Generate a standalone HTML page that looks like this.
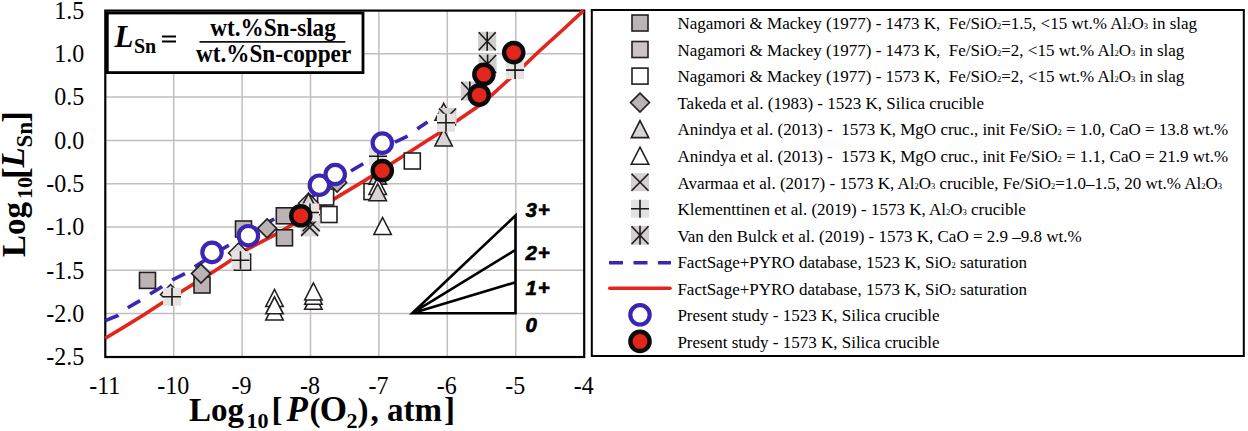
<!DOCTYPE html>
<html><head><meta charset="utf-8"><style>
html,body{margin:0;padding:0;background:#fff;}
svg{display:block;}
text{font-family:"Liberation Serif",serif;}
.s{font-family:"Liberation Sans",sans-serif;}
</style></head><body>
<svg width="1248" height="431" viewBox="0 0 1248 431">
<defs>
<g id="sqA"><rect x="-8" y="-8" width="16" height="16" fill="#bcb4b4" stroke="#231f20" stroke-width="1.6"/></g>
<g id="sqB"><rect x="-8" y="-8" width="16" height="16" fill="#cac4c4" stroke="#231f20" stroke-width="1.6"/></g>
<g id="sqC"><rect x="-8" y="-8" width="16" height="16" fill="#fff" stroke="#231f20" stroke-width="1.6"/></g>
<g id="dia"><path d="M0,-9.5 L9.5,0 L0,9.5 L-9.5,0 Z" fill="#bab3b3" stroke="#231f20" stroke-width="1.6"/></g>
<g id="triF"><path d="M0,-8.5 L8.7,8.5 L-8.7,8.5 Z" fill="#d9d4d4" stroke="#231f20" stroke-width="1.6"/></g>
<g id="diaL"><path d="M0,-10 L10,0 L0,10 L-10,0 Z" fill="#dcd8d8" stroke="#231f20" stroke-width="1.5"/></g>
<g id="triO"><path d="M0,-8.5 L8.7,8.5 L-8.7,8.5 Z" fill="#fff" stroke="#231f20" stroke-width="1.6"/></g>
<g id="xb"><rect x="-9" y="-9" width="18" height="18" fill="#d6d1d1"/><path d="M-8.5,-8.5 L8.5,8.5 M8.5,-8.5 L-8.5,8.5" stroke="#1a1a1a" stroke-width="1.6"/></g>
<g id="xbox"><rect x="-9" y="-9" width="18" height="18" fill="#d9d5d5"/></g>
<g id="xl"><path d="M-8.5,-8.5 L8.5,8.5 M8.5,-8.5 L-8.5,8.5" stroke="#1a1a1a" stroke-width="1.5"/></g>
<g id="pb"><rect x="-9" y="-9" width="18" height="18" fill="#e6e2e2"/><path d="M-9,0 L9,0 M0,-9 L0,9" stroke="#1a1a1a" stroke-width="1.6"/></g>
<g id="sb"><rect x="-9" y="-9.5" width="18" height="19" fill="#d3cdcd"/><path d="M-8.5,-9 L8.5,9 M8.5,-9 L-8.5,9 M0,-9.5 L0,9.5" stroke="#1a1a1a" stroke-width="1.6"/></g>
<g id="cb"><circle r="9.7" fill="#fff" stroke="#3926b2" stroke-width="4.2"/></g>
<g id="cr"><circle r="9.6" fill="#e2261c" stroke="#0a0a0a" stroke-width="4.4"/></g>
</defs>

<line x1="173.7" y1="10.5" x2="173.7" y2="357" stroke="#c3bebe" stroke-width="1.5"/>
<line x1="242.1" y1="10.5" x2="242.1" y2="357" stroke="#c3bebe" stroke-width="1.5"/>
<line x1="310.5" y1="10.5" x2="310.5" y2="357" stroke="#c3bebe" stroke-width="1.5"/>
<line x1="378.9" y1="10.5" x2="378.9" y2="357" stroke="#c3bebe" stroke-width="1.5"/>
<line x1="447.3" y1="10.5" x2="447.3" y2="357" stroke="#c3bebe" stroke-width="1.5"/>
<line x1="515.8" y1="10.5" x2="515.8" y2="357" stroke="#c3bebe" stroke-width="1.5"/>
<line x1="105" y1="53.8" x2="584" y2="53.8" stroke="#c3bebe" stroke-width="1.5"/>
<line x1="105" y1="97.1" x2="584" y2="97.1" stroke="#c3bebe" stroke-width="1.5"/>
<line x1="105" y1="140.4" x2="584" y2="140.4" stroke="#c3bebe" stroke-width="1.5"/>
<line x1="105" y1="183.7" x2="584" y2="183.7" stroke="#c3bebe" stroke-width="1.5"/>
<line x1="105" y1="227.0" x2="584" y2="227.0" stroke="#c3bebe" stroke-width="1.5"/>
<line x1="105" y1="270.3" x2="584" y2="270.3" stroke="#c3bebe" stroke-width="1.5"/>
<line x1="105" y1="313.6" x2="584" y2="313.6" stroke="#c3bebe" stroke-width="1.5"/>
<rect x="105.3" y="10.6" width="478.9" height="346.4" fill="none" stroke="#000" stroke-width="2.2"/>
<polyline points="105.3,320.7 117.9,315.5 127.5,307.9 139.6,300.9 150.4,293.8 158.0,289.2 172.5,279.9 185.0,273.6 194.8,266.7 223.0,248.6 271.7,220.4 296.0,207.3 352.1,170.3 363.9,163.3 395.6,141.8 408.8,135.5 417.9,128.6 427.5,122.0" fill="none" stroke="#3926b2" stroke-width="3.6" stroke-dasharray="14.2 12" stroke-linejoin="round"/>
<polyline points="105.3,338.3 125.5,326.1 144.7,314.3 160.0,304.2 182.3,291.0 193.4,284.1 211.5,272.9 229.5,261.2 245.6,250.1 260.9,242.2 276.2,234.1 291.5,225.1 341.3,194.6 366.3,179.6 392.0,163.3 425.0,142.1 440.1,132.6 484.4,101.9 500.0,87.5 523.0,66.6 541.8,48.8 562.6,30.0 583.5,10.6" fill="none" stroke="#e3261d" stroke-width="3.6" stroke-linejoin="round"/>
<use href="#triO" x="274.5" y="311.5"/>
<use href="#triO" x="274.5" y="298"/>
<use href="#triO" x="274.5" y="305.3"/>
<use href="#triO" x="313.4" y="300.8"/>
<use href="#triO" x="313.4" y="295.7"/>
<use href="#triO" x="313.4" y="291.5"/>
<use href="#triO" x="382.6" y="226"/>
<use href="#sqA" x="147.5" y="280.4"/>
<use href="#sqA" x="202" y="285"/>
<use href="#sqA" x="243.5" y="229"/>
<use href="#sqA" x="284.3" y="215.8"/>
<use href="#sqA" x="284.5" y="237.8"/>
<use href="#dia" x="201" y="273.6"/>
<use href="#dia" x="267.1" y="228.4"/>
<use href="#dia" x="337.1" y="182.5"/>
<use href="#sqC" x="325.6" y="197"/>
<use href="#sqC" x="329" y="214.5"/>
<use href="#sqC" x="372" y="191.6"/>
<use href="#sqC" x="412.3" y="161"/>
<use href="#triF" x="377.7" y="175.6"/>
<use href="#triO" x="377.7" y="186"/>
<use href="#triF" x="377.7" y="192.2"/>
<use href="#diaL" x="308.5" y="203.3"/>
<use href="#triF" x="308.5" y="201.8"/>
<use href="#triF" x="443.6" y="137.5"/>
<use href="#triO" x="443.7" y="111.8"/>
<use href="#xb" x="447.5" y="117"/>
<use href="#pb" x="446" y="122.8"/>
<use href="#diaL" x="170.5" y="294.5"/>
<use href="#diaL" x="238.5" y="253"/>
<use href="#sqC" x="242.6" y="262.2"/>
<use href="#xbox" x="311.2" y="222.8"/>
<use href="#xbox" x="309.6" y="227.4"/>
<use href="#xl" x="311.2" y="222.8"/>
<use href="#xl" x="309.6" y="227.4"/>
<use href="#pb" x="172" y="296.7"/>
<use href="#pb" x="240.5" y="260.2"/>
<use href="#pb" x="310" y="212.5"/>
<use href="#pb" x="378" y="156.3"/>
<use href="#pb" x="515.1" y="70.1"/>
<use href="#sb" x="469.8" y="91"/>
<use href="#sb" x="487.2" y="41.3"/>
<use href="#sb" x="487.6" y="64"/>
<use href="#cb" x="212" y="252.4"/>
<use href="#cb" x="248.4" y="235.7"/>
<use href="#cb" x="319.4" y="185.2"/>
<use href="#cb" x="335.2" y="174.5"/>
<use href="#cb" x="382.3" y="143.1"/>
<use href="#cr" x="300.8" y="215.8"/>
<use href="#cr" x="382.3" y="170.6"/>
<use href="#cr" x="513.7" y="52.6"/>
<use href="#cr" x="483.9" y="74.3"/>
<use href="#cr" x="479.2" y="95.1"/>
<rect x="107.3" y="13" width="255.7" height="59.6" fill="#fff" stroke="#000" stroke-width="2.8"/>
<text x="114.5" y="47" font-size="31" font-weight="bold" font-style="italic">L</text>
<text x="134" y="53.4" font-size="20" font-weight="bold">Sn</text>
<path d="M162,36.6 H176 M162,41.6 H176" stroke="#000" stroke-width="2"/>
<text transform="translate(273,35.9) scale(1,1.09)" font-size="23.2" font-weight="bold" text-anchor="middle">wt.%Sn-slag</text>
<line x1="199.5" y1="41.8" x2="345.3" y2="41.8" stroke="#111" stroke-width="1.8"/>
<text transform="translate(273.6,62.2) scale(1,1.09)" font-size="23.2" font-weight="bold" text-anchor="middle">wt.%Sn-copper</text>
<path d="M412.2,313.2 L515.5,313.2 L515.5,215.5 Z M412.2,313.2 L515.5,249.9 M412.2,313.2 L515.5,282.3" fill="none" stroke="#000" stroke-width="2.6" stroke-linejoin="miter"/>
<text class="s" x="525.5" y="216.9" font-size="20.5" font-weight="bold" font-style="italic" stroke="#000" stroke-width="0.6" letter-spacing="0.8">3+</text>
<text class="s" x="525.5" y="260" font-size="20.5" font-weight="bold" font-style="italic" stroke="#000" stroke-width="0.6" letter-spacing="0.8">2+</text>
<text class="s" x="525.5" y="295.3" font-size="20.5" font-weight="bold" font-style="italic" stroke="#000" stroke-width="0.6" letter-spacing="0.8">1+</text>
<text class="s" x="525.5" y="331.5" font-size="20.5" font-weight="bold" font-style="italic" stroke="#000" stroke-width="0.6" letter-spacing="0.8">0</text>
<text transform="translate(84.2,18.8) scale(1,1.09)" font-size="24" text-anchor="end">1.5</text>
<text transform="translate(84.2,62.1) scale(1,1.09)" font-size="24" text-anchor="end">1.0</text>
<text transform="translate(84.2,105.4) scale(1,1.09)" font-size="24" text-anchor="end">0.5</text>
<text transform="translate(84.2,148.7) scale(1,1.09)" font-size="24" text-anchor="end">0.0</text>
<text transform="translate(84.2,192.0) scale(1,1.09)" font-size="24" text-anchor="end">-0.5</text>
<text transform="translate(84.2,235.3) scale(1,1.09)" font-size="24" text-anchor="end">-1.0</text>
<text transform="translate(84.2,278.6) scale(1,1.09)" font-size="24" text-anchor="end">-1.5</text>
<text transform="translate(84.2,321.9) scale(1,1.09)" font-size="24" text-anchor="end">-2.0</text>
<text transform="translate(84.2,365.2) scale(1,1.09)" font-size="24" text-anchor="end">-2.5</text>
<text transform="translate(104.8,393.8) scale(1,1.09)" font-size="24" text-anchor="middle">-11</text>
<text transform="translate(173.2,393.8) scale(1,1.09)" font-size="24" text-anchor="middle">-10</text>
<text transform="translate(241.6,393.8) scale(1,1.09)" font-size="24" text-anchor="middle">-9</text>
<text transform="translate(310.0,393.8) scale(1,1.09)" font-size="24" text-anchor="middle">-8</text>
<text transform="translate(378.4,393.8) scale(1,1.09)" font-size="24" text-anchor="middle">-7</text>
<text transform="translate(446.8,393.8) scale(1,1.09)" font-size="24" text-anchor="middle">-6</text>
<text transform="translate(515.3,393.8) scale(1,1.09)" font-size="24" text-anchor="middle">-5</text>
<text transform="translate(583.7,393.8) scale(1,1.09)" font-size="24" text-anchor="middle">-4</text>
<text x="189" y="421.2" font-size="33" font-weight="bold" xml:space="preserve">Log</text>
<text x="246.5" y="428" font-size="22" font-weight="bold" xml:space="preserve">10</text>
<text x="271.5" y="421.2" font-size="33" font-weight="bold" xml:space="preserve">[</text>
<text x="286.5" y="421.2" font-size="35" font-weight="bold" font-style="italic" xml:space="preserve">P</text>
<text x="309.5" y="421.2" font-size="33" font-weight="bold" xml:space="preserve">(</text>
<text x="319.8" y="421.2" font-size="35" font-weight="bold" xml:space="preserve">O</text>
<text x="346.5" y="428" font-size="22" font-weight="bold" xml:space="preserve">2</text>
<text x="357.5" y="421.2" font-size="33" font-weight="bold" xml:space="preserve">)</text>
<text x="370.5" y="421.2" font-size="33" font-weight="bold" xml:space="preserve">, atm</text>
<text x="444" y="421.2" font-size="33" font-weight="bold" xml:space="preserve">]</text>
<g transform="translate(24.5,257) rotate(-90)"><text x="0" y="0" font-size="33" font-weight="bold">Log</text><text x="58" y="7" font-size="22" font-weight="bold">10</text><text x="78" y="2" font-size="35" font-weight="bold">[</text><text x="89.5" y="-0.5" font-size="33" font-weight="bold" font-style="italic">L</text><text x="109.5" y="7" font-size="23" font-weight="bold">Sn</text><text x="134.3" y="2" font-size="35" font-weight="bold">]</text></g>
<rect x="591.8" y="10" width="652" height="346" fill="none" stroke="#000" stroke-width="2"/>
<use href="#sqA" x="640" y="23.0"/>
<text x="677.4" y="29.3" font-size="17" xml:space="preserve">Nagamori &amp; Mackey (1977) - 1473 K,  Fe/SiO<tspan font-size="8.5">2</tspan>=1.5, &lt;15 wt.% Al<tspan font-size="8.5">2</tspan>O<tspan font-size="8.5">3</tspan> in slag</text>
<use href="#sqB" x="640" y="49.5"/>
<text x="677.4" y="55.8" font-size="17" xml:space="preserve">Nagamori &amp; Mackey (1977) - 1473 K,  Fe/SiO<tspan font-size="8.5">2</tspan>=2, &lt;15 wt.% Al<tspan font-size="8.5">2</tspan>O<tspan font-size="8.5">3</tspan> in slag</text>
<use href="#sqC" x="640" y="76.1"/>
<text x="677.4" y="82.4" font-size="17" xml:space="preserve">Nagamori &amp; Mackey (1977) - 1573 K,  Fe/SiO<tspan font-size="8.5">2</tspan>=2, &lt;15 wt.% Al<tspan font-size="8.5">2</tspan>O<tspan font-size="8.5">3</tspan> in slag</text>
<use href="#dia" x="640" y="102.6"/>
<text x="677.4" y="108.9" font-size="17" xml:space="preserve">Takeda et al. (1983) - 1523 K, Silica crucible</text>
<use href="#triF" x="640" y="129.1"/>
<text x="677.4" y="135.4" font-size="17" xml:space="preserve">Anindya et al. (2013) -  1573 K, MgO cruc., init Fe/SiO<tspan font-size="8.5">2</tspan> = 1.0, CaO = 13.8 wt.%</text>
<use href="#triO" x="640" y="155.7"/>
<text x="677.4" y="162.0" font-size="17" xml:space="preserve">Anindya et al. (2013) -  1573 K, MgO cruc., init Fe/SiO<tspan font-size="8.5">2</tspan> = 1.1, CaO = 21.9 wt.%</text>
<use href="#xb" x="640" y="182.2"/>
<text x="677.4" y="188.5" font-size="17" xml:space="preserve">Avarmaa et al. (2017) - 1573 K, Al<tspan font-size="8.5">2</tspan>O<tspan font-size="8.5">3</tspan> crucible, Fe/SiO<tspan font-size="8.5">2</tspan>=1.0–1.5, 20 wt.% Al<tspan font-size="8.5">2</tspan>O<tspan font-size="8.5">3</tspan></text>
<use href="#pb" x="640" y="208.7"/>
<text x="677.4" y="215.0" font-size="17" xml:space="preserve">Klementtinen et al. (2019) - 1573 K, Al<tspan font-size="8.5">2</tspan>O<tspan font-size="8.5">3</tspan> crucible</text>
<use href="#sb" x="640" y="235.2"/>
<text x="677.4" y="241.5" font-size="17" xml:space="preserve">Van den Bulck et al. (2019) - 1573 K, CaO = 2.9 –9.8 wt.%</text>
<line x1="609" y1="262.8" x2="671" y2="262.8" stroke="#3926b2" stroke-width="3.6" stroke-dasharray="14 10.5"/>
<text x="677.4" y="268.1" font-size="17" xml:space="preserve">FactSage+PYRO database, 1523 K, SiO<tspan font-size="8.5">2</tspan> saturation</text>
<line x1="609.8" y1="288.3" x2="670" y2="288.3" stroke="#e3261d" stroke-width="3.6" stroke-linecap="round"/>
<text x="677.4" y="294.6" font-size="17" xml:space="preserve">FactSage+PYRO database, 1573 K, SiO<tspan font-size="8.5">2</tspan> saturation</text>
<use href="#cb" x="640" y="314.8"/>
<text x="677.4" y="321.1" font-size="17" xml:space="preserve">Present study - 1523 K, Silica crucible</text>
<use href="#cr" x="640" y="341.4"/>
<text x="677.4" y="347.7" font-size="17" xml:space="preserve">Present study - 1573 K, Silica crucible</text>
</svg></body></html>
